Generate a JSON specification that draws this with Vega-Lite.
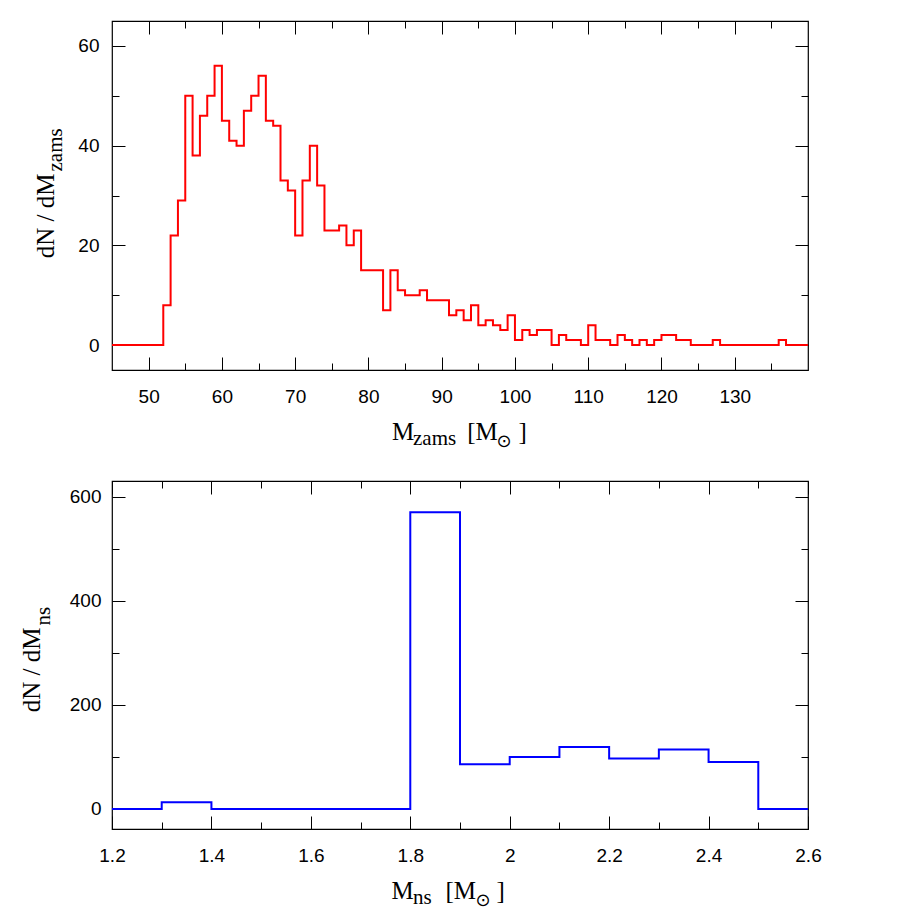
{
  "$schema": "https://vega.github.io/schema/vega-lite/v6.json",
  "padding": {"left": 18, "top": 19, "right": 5, "bottom": 5},
  "spacing": 111,
  "bounds": "flush",
  "datasets": {
    "zams": [
      {"m":45,"n":0},{"m":46,"n":0},{"m":47,"n":0},{"m":48,"n":0},{"m":49,"n":0},{"m":50,"n":0},{"m":51,"n":0},
      {"m":52,"n":8},{"m":53,"n":22},{"m":54,"n":29},{"m":55,"n":50},{"m":56,"n":38},{"m":57,"n":46},{"m":58,"n":50},{"m":59,"n":56},
      {"m":60,"n":45},{"m":61,"n":41},{"m":62,"n":40},{"m":63,"n":47},{"m":64,"n":50},{"m":65,"n":54},{"m":66,"n":45},{"m":67,"n":44},
      {"m":68,"n":33},{"m":69,"n":31},{"m":70,"n":22},{"m":71,"n":33},{"m":72,"n":40},{"m":73,"n":32},{"m":74,"n":23},{"m":75,"n":23},
      {"m":76,"n":24},{"m":77,"n":20},{"m":78,"n":23},{"m":79,"n":15},{"m":80,"n":15},{"m":81,"n":15},{"m":82,"n":7},{"m":83,"n":15},
      {"m":84,"n":11},{"m":85,"n":10},{"m":86,"n":10},{"m":87,"n":11},{"m":88,"n":9},{"m":89,"n":9},{"m":90,"n":9},{"m":91,"n":6},
      {"m":92,"n":7},{"m":93,"n":5},{"m":94,"n":8},{"m":95,"n":4},{"m":96,"n":5},{"m":97,"n":4},{"m":98,"n":3},{"m":99,"n":6},
      {"m":100,"n":1},{"m":101,"n":3},{"m":102,"n":2},{"m":103,"n":3},{"m":104,"n":3},{"m":105,"n":0},{"m":106,"n":2},{"m":107,"n":1},
      {"m":108,"n":1},{"m":109,"n":0},{"m":110,"n":4},{"m":111,"n":1},{"m":112,"n":1},{"m":113,"n":0},{"m":114,"n":2},{"m":115,"n":1},
      {"m":116,"n":0},{"m":117,"n":1},{"m":118,"n":0},{"m":119,"n":1},{"m":120,"n":2},{"m":121,"n":2},{"m":122,"n":1},{"m":123,"n":1},
      {"m":124,"n":0},{"m":125,"n":0},{"m":126,"n":0},{"m":127,"n":1},{"m":128,"n":0},{"m":129,"n":0},{"m":130,"n":0},{"m":131,"n":0},
      {"m":132,"n":0},{"m":133,"n":0},{"m":134,"n":0},{"m":135,"n":0},{"m":136,"n":1},{"m":137,"n":0},{"m":138,"n":0},{"m":139,"n":0},
      {"m":140,"n":0}
    ],
    "ns": [
      {"m":1.2,"n":0},{"m":1.3,"n":13},{"m":1.4,"n":0},{"m":1.5,"n":0},{"m":1.6,"n":0},{"m":1.7,"n":0},{"m":1.8,"n":570},
      {"m":1.9,"n":86},{"m":2.0,"n":100},{"m":2.1,"n":119},{"m":2.2,"n":97},{"m":2.3,"n":114},{"m":2.4,"n":90},{"m":2.5,"n":0},{"m":2.6,"n":0}
    ]
  },
  "vconcat": [
    {
      "width": 696,
      "height": 349,
      "data": {"name": "zams"},
      "layer": [
        {
          "mark": {"type": "line", "interpolate": "step-after", "color": "#ff0000", "strokeWidth": 2},
          "encoding": {
            "x": {"field": "m", "type": "quantitative", "scale": {"domain": [45, 140], "nice": false, "zero": false},
              "axis": {"orient": "bottom", "values": [50,60,70,80,90,100,110,120,130], "tickSize": -13, "labelPadding": 30,
                "title": "M", "titleX": 279.4, "titleY": 69, "titleAlign": "left", "titleBaseline": "alphabetic", "titleAngle": 0, "titleFontSize": 25}},
            "y": {"field": "n", "type": "quantitative", "scale": {"domain": [-5, 65], "nice": false, "zero": false},
              "axis": {"orient": "left", "values": [0,20,40,60], "tickSize": -13, "labelPadding": 26,
                "title": "dN / dM", "titleX": -58.3, "titleY": 236.7, "titleAlign": "left", "titleBaseline": "alphabetic", "titleAngle": -90, "titleFontSize": 25}}
          }
        },
        {
          "mark": {"type": "line", "opacity": 0},
          "encoding": {
            "x": {"field": "m", "type": "quantitative", "scale": {"domain": [45, 140], "nice": false, "zero": false},
              "axis": {"orient": "bottom", "values": [55,65,75,85,95,105,115,125,135], "tickSize": -7, "labels": false,
                "title": "zams", "titleX": 300.5, "titleY": 74, "titleAlign": "left", "titleBaseline": "alphabetic", "titleAngle": 0, "titleFontSize": 21}},
            "y": {"field": "n", "type": "quantitative", "scale": {"domain": [-5, 65], "nice": false, "zero": false},
              "axis": {"orient": "left", "values": [10,30,50], "tickSize": -7, "labels": false,
                "title": "zams", "titleX": -50.3, "titleY": 150, "titleAlign": "left", "titleBaseline": "alphabetic", "titleAngle": -90, "titleFontSize": 21}}
          }
        },
        {
          "mark": {"type": "line", "opacity": 0},
          "encoding": {
            "x": {"field": "m", "type": "quantitative", "scale": {"domain": [45, 140], "nice": false, "zero": false},
              "axis": {"orient": "top", "values": [50,60,70,80,90,100,110,120,130], "tickSize": -13, "labels": false,
                "title": "[M", "titleX": 354.7, "titleY": 418.3, "titleAlign": "left", "titleBaseline": "alphabetic", "titleAngle": 0, "titleFontSize": 25}},
            "y": {"field": "n", "type": "quantitative", "scale": {"domain": [-5, 65], "nice": false, "zero": false},
              "axis": {"orient": "right", "values": [0,20,40,60], "tickSize": -13, "labels": false,
                "title": "]", "titleX": -290, "titleY": 418.3, "titleAlign": "left", "titleBaseline": "alphabetic", "titleAngle": 0, "titleFontSize": 25}}
          }
        },
        {
          "mark": {"type": "line", "opacity": 0},
          "encoding": {
            "x": {"field": "m", "type": "quantitative", "scale": {"domain": [45, 140], "nice": false, "zero": false},
              "axis": {"orient": "top", "values": [55,65,75,85,95,105,115,125,135], "tickSize": -7, "labels": false,
                "title": "⊙", "titleX": 384, "titleY": 425, "titleAlign": "left", "titleBaseline": "alphabetic", "titleAngle": 0, "titleFont": "DejaVu Sans", "titleFontSize": 18}},
            "y": {"field": "n", "type": "quantitative", "scale": {"domain": [-5, 65], "nice": false, "zero": false},
              "axis": {"orient": "right", "values": [10,30,50], "tickSize": -7, "labels": false, "title": null}}
          }
        }
      ],
      "resolve": {"axis": {"x": "independent", "y": "independent"}}
    },
    {
      "width": 696,
      "height": 348,
      "data": {"name": "ns"},
      "layer": [
        {
          "mark": {"type": "line", "interpolate": "step-after", "color": "#0000ff", "strokeWidth": 2},
          "encoding": {
            "x": {"field": "m", "type": "quantitative", "scale": {"domain": [1.2, 2.6], "nice": false, "zero": false},
              "axis": {"orient": "bottom", "values": [1.2,1.4,1.6,1.8,2,2.2,2.4,2.6], "format": "~g", "tickSize": -13, "labelPadding": 30,
                "title": "M", "titleX": 279, "titleY": 69, "titleAlign": "left", "titleBaseline": "alphabetic", "titleAngle": 0, "titleFontSize": 25}},
            "y": {"field": "n", "type": "quantitative", "scale": {"domain": [-38.5, 630], "nice": false, "zero": false},
              "axis": {"orient": "left", "values": [0,200,400,600], "tickSize": -13, "labelPadding": 24,
                "title": "dN / dM", "titleX": -72.6, "titleY": 230.7, "titleAlign": "left", "titleBaseline": "alphabetic", "titleAngle": -90, "titleFontSize": 25}}
          }
        },
        {
          "mark": {"type": "line", "opacity": 0},
          "encoding": {
            "x": {"field": "m", "type": "quantitative", "scale": {"domain": [1.2, 2.6], "nice": false, "zero": false},
              "axis": {"orient": "bottom", "values": [1.3,1.5,1.7,1.9,2.1,2.3,2.5], "tickSize": -7, "labels": false,
                "title": "ns", "titleX": 300.5, "titleY": 74, "titleAlign": "left", "titleBaseline": "alphabetic", "titleAngle": 0, "titleFontSize": 21}},
            "y": {"field": "n", "type": "quantitative", "scale": {"domain": [-38.5, 630], "nice": false, "zero": false},
              "axis": {"orient": "left", "values": [100,300,500], "tickSize": -7, "labels": false,
                "title": "ns", "titleX": -62.3, "titleY": 144, "titleAlign": "left", "titleBaseline": "alphabetic", "titleAngle": -90, "titleFontSize": 21}}
          }
        },
        {
          "mark": {"type": "line", "opacity": 0},
          "encoding": {
            "x": {"field": "m", "type": "quantitative", "scale": {"domain": [1.2, 2.6], "nice": false, "zero": false},
              "axis": {"orient": "top", "values": [1.2,1.4,1.6,1.8,2,2.2,2.4,2.6], "tickSize": -13, "labels": false,
                "title": "[M", "titleX": 333, "titleY": 417, "titleAlign": "left", "titleBaseline": "alphabetic", "titleAngle": 0, "titleFontSize": 25}},
            "y": {"field": "n", "type": "quantitative", "scale": {"domain": [-38.5, 630], "nice": false, "zero": false},
              "axis": {"orient": "right", "values": [0,200,400,600], "tickSize": -13, "labels": false,
                "title": "]", "titleX": -312, "titleY": 417, "titleAlign": "left", "titleBaseline": "alphabetic", "titleAngle": 0, "titleFontSize": 25}}
          }
        },
        {
          "mark": {"type": "line", "opacity": 0},
          "encoding": {
            "x": {"field": "m", "type": "quantitative", "scale": {"domain": [1.2, 2.6], "nice": false, "zero": false},
              "axis": {"orient": "top", "values": [1.3,1.5,1.7,1.9,2.1,2.3,2.5], "tickSize": -7, "labels": false,
                "title": "⊙", "titleX": 363, "titleY": 424, "titleAlign": "left", "titleBaseline": "alphabetic", "titleAngle": 0, "titleFont": "DejaVu Sans", "titleFontSize": 18}},
            "y": {"field": "n", "type": "quantitative", "scale": {"domain": [-38.5, 630], "nice": false, "zero": false},
              "axis": {"orient": "right", "values": [100,300,500], "tickSize": -7, "labels": false, "title": null}}
          }
        }
      ],
      "resolve": {"axis": {"x": "independent", "y": "independent"}}
    }
  ],
  "config": {
    "background": "#ffffff",
    "view": {"stroke": "#000000", "strokeWidth": 1.2},
    "axis": {
      "grid": false,
      "domain": false,
      "tickColor": "#000000",
      "tickWidth": 1,
      "labelFont": "Liberation Sans",
      "labelFontSize": 19,
      "labelColor": "#000000",
      "labelFlush": false,
      "labelOverlap": false,
      "titleFont": "Liberation Serif",
      "titleColor": "#000000",
      "titleFontWeight": "normal"
    }
  }
}
